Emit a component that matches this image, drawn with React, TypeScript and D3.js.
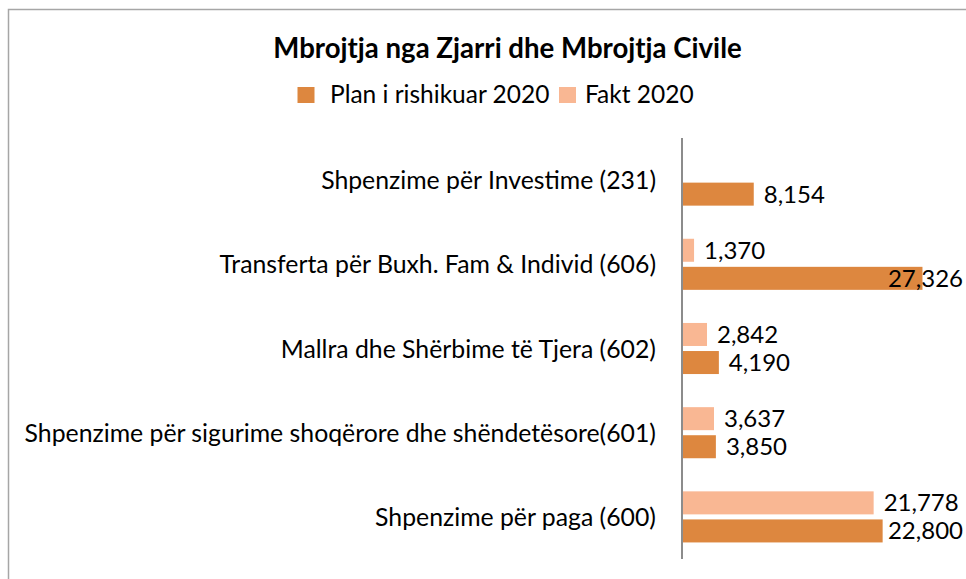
import React from "react";
import * as d3 from "d3";

const categories = [
  "Shpenzime për Investime (231)",
  "Transferta për Buxh. Fam & Individ (606)",
  "Mallra dhe Shërbime të Tjera (602)",
  "Shpenzime për sigurime shoqërore dhe shëndetësore(601)",
  "Shpenzime për paga (600)",
];
const planValues = [8154, 27326, 4190, 3850, 22800];
const faktValues = [null, 1370, 2842, 3637, 21778];
const seriesNames = ["Plan i rishikuar 2020", "Fakt 2020"];
const title = "Mbrojtja nga Zjarri dhe Mbrojtja Civile";

const W = 966;
const H = 579;
const PLAN = "#DD873F";
const FAKT = "#F9B793";
const FONT = "Lato, Carlito, 'Liberation Sans', sans-serif";

export default function App() {
  const x = d3.scaleLinear().domain([0, 32000]).range([682, 682 + 32000 * 0.0088]);
  const y = d3.scaleBand<string>().domain(categories).range([138, 559]).paddingInner(0).paddingOuter(0);
  const inner = d3
    .scaleBand<string>()
    .domain(["fakt", "plan"])
    .range([0, y.bandwidth()])
    .paddingInner(0.18)
    .paddingOuter(0.59);
  const fmt = d3.format(",");

  const numLabel = (v: number, cy: number) => {
    const txt = fmt(v);
    const approxW = (txt.length - 1) * 13.9 + 6;
    const clamp = x(v) + 10 + approxW > 963;
    return (
      <text
        x={clamp ? 963 : x(v) + 10}
        y={cy + 8.5}
        textAnchor={clamp ? "end" : "start"}
        fontFamily={FONT}
        fontSize={24}
        fill="#000"
      >
        {txt}
      </text>
    );
  };

  return (
    <svg width={W} height={H} style={{ position: "absolute", left: 0, top: 0 }}>
      <rect x={0} y={0} width={W} height={H} fill="#fff" />
      <rect x={8.5} y={9.5} width={W + 20} height={H + 20} fill="#fff" stroke="#a6a6a6" strokeWidth={1.5} />
      <text x={507.5} y={58} textAnchor="middle" fontFamily={FONT} fontWeight="bold" fontSize={27.6} fill="#000">
        {title}
      </text>
      {/* legend */}
      <g fontFamily={FONT} fontSize={24.5} fill="#000">
        <rect x={297.5} y={87} width={17} height={16} fill={PLAN} />
        <text x={330} y={103}>{seriesNames[0]}</text>
        <rect x={559} y={87} width={17} height={16} fill={FAKT} />
        <text x={585} y={103}>{seriesNames[1]}</text>
      </g>
      {categories.map((c, i) => {
        const y0 = y(c)!;
        const pv = planValues[i];
        const fv = faktValues[i];
        return (
          <g key={c}>
            <text
              x={656}
              y={y0 + y.bandwidth() / 2 + 9}
              textAnchor="end"
              fontFamily={FONT}
              fontSize={24.8}
              fill="#000"
            >
              {c}
            </text>
            {fv != null && (
              <g>
                <rect x={x(0)} y={y0 + inner("fakt")!} width={x(fv) - x(0)} height={inner.bandwidth()} fill={FAKT} />
                {numLabel(fv, y0 + inner("fakt")! + inner.bandwidth() / 2)}
              </g>
            )}
            <rect x={x(0)} y={y0 + inner("plan")!} width={x(pv) - x(0)} height={inner.bandwidth()} fill={PLAN} />
            {numLabel(pv, y0 + inner("plan")! + inner.bandwidth() / 2)}
          </g>
        );
      })}
      <line x1={x(0)} x2={x(0)} y1={138} y2={559} stroke="#8c8c8c" strokeWidth={2} />
    </svg>
  );
}
